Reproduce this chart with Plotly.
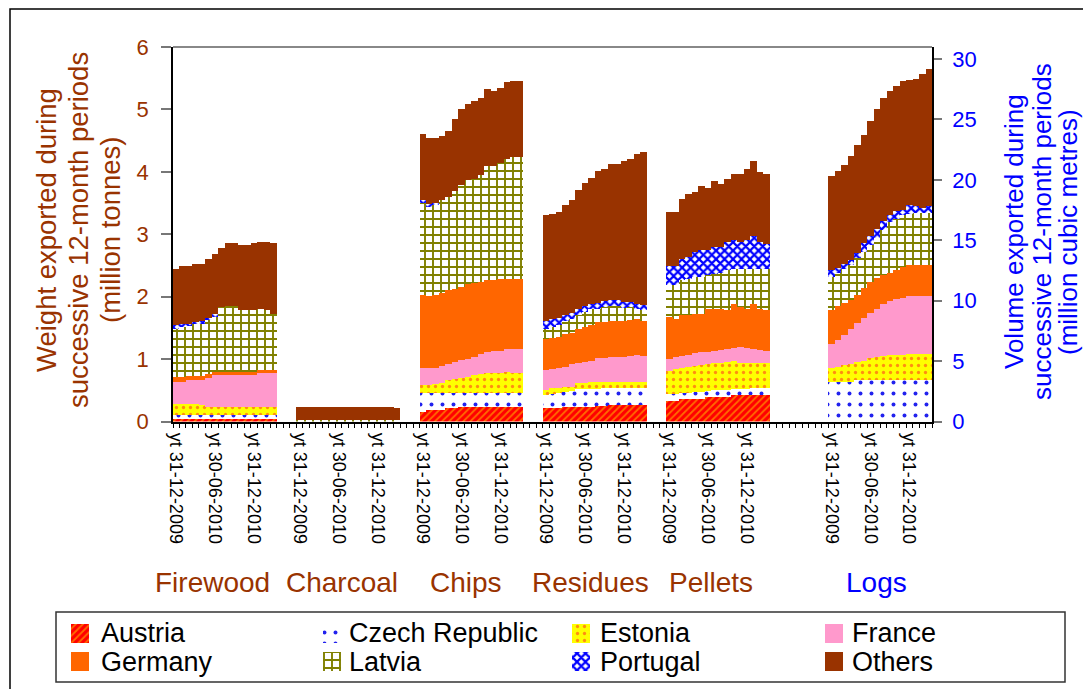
import plotly.graph_objects as go
import numpy as np

# ---------------- data ----------------
countries = ["Austria", "Czech Republic", "Estonia", "France",
             "Germany", "Latvia", "Portugal", "Others"]
products = ["Firewood", "Charcoal", "Chips", "Residues", "Pellets", "Logs"]
periods = ["yt 31-12-2009", "yt 31-01-2010", "yt 28-02-2010", "yt 31-03-2010",
           "yt 30-04-2010", "yt 31-05-2010", "yt 30-06-2010", "yt 31-07-2010",
           "yt 31-08-2010", "yt 30-09-2010", "yt 31-10-2010", "yt 30-11-2010",
           "yt 31-12-2010", "yt 31-01-2011", "yt 28-02-2011", "yt 31-03-2011"]
shown_periods = ["yt 31-12-2009", "yt 30-06-2010", "yt 31-12-2010"]

# cumulative stack tops (million tonnes), read bar by bar
firewood_tops = {
    "Austria":        [0.04]*16,
    "Czech Republic": [0.10]*16,
    "Estonia":  [0.28,0.28,0.28,0.28,0.27,0.24,0.24,0.24,0.24,0.24,0.24,0.24,0.24,0.24,0.24,0.24],
    "France":   [0.64,0.64,0.67,0.67,0.67,0.70,0.75,0.75,0.75,0.75,0.75,0.75,0.75,0.77,0.77,0.77],
    "Germany":  [0.72,0.72,0.735,0.735,0.735,0.76,0.80,0.80,0.80,0.80,0.80,0.80,0.80,0.83,0.83,0.83],
    "Latvia":   [1.49,1.52,1.53,1.56,1.57,1.62,1.68,1.84,1.85,1.85,1.78,1.78,1.78,1.80,1.78,1.72],
    "Portugal": [1.54,1.56,1.57,1.60,1.61,1.66,1.72,1.84,1.85,1.85,1.78,1.78,1.78,1.80,1.78,1.72],
    "Others":   [2.44,2.49,2.49,2.52,2.52,2.60,2.69,2.78,2.86,2.86,2.83,2.83,2.86,2.88,2.87,2.86],
}
charcoal_tops = {
    "Austria": [0.0]*16, "Czech Republic": [0.0]*16, "Estonia": [0.0]*16,
    "France": [0.0]*16, "Germany": [0.0]*16,
    "Latvia":   [0.03]*16,
    "Portugal": [0.03]*16,
    "Others":   [0.24]*15 + [0.215],
}
chips_tops = {
    "Austria":  [0.16,0.18,0.19,0.19,0.21,0.21,0.23,0.23,0.23,0.23,0.23,0.23,0.23,0.23,0.23,0.23],
    "Czech Republic": [0.46,0.45,0.45,0.45,0.45,0.45,0.45,0.45,0.45,0.45,0.45,0.45,0.45,0.45,0.45,0.45],
    "Estonia":  [0.59,0.59,0.60,0.62,0.67,0.68,0.70,0.72,0.74,0.76,0.77,0.78,0.78,0.80,0.78,0.78],
    "France":   [0.86,0.86,0.86,0.89,0.92,0.95,0.98,1.00,1.04,1.08,1.11,1.13,1.13,1.16,1.16,1.16],
    "Germany":  [2.03,2.01,2.03,2.06,2.11,2.13,2.16,2.20,2.22,2.23,2.26,2.27,2.28,2.28,2.28,2.28],
    "Latvia":   [3.50,3.44,3.47,3.55,3.60,3.69,3.79,3.87,3.89,3.95,4.09,4.10,4.14,4.21,4.23,4.23],
    "Portugal": [3.55,3.49,3.50,3.55,3.60,3.69,3.79,3.87,3.89,3.95,4.09,4.10,4.14,4.21,4.23,4.23],
    "Others":   [4.61,4.55,4.55,4.58,4.66,4.84,5.00,5.08,5.14,5.19,5.33,5.30,5.35,5.44,5.46,5.46],
}
residues_tops = {
    "Austria":  [0.22,0.22,0.22,0.23,0.23,0.24,0.24,0.24,0.25,0.25,0.26,0.26,0.27,0.27,0.27,0.27],
    "Czech Republic": [0.43,0.44,0.45,0.47,0.49,0.52,0.52,0.52,0.52,0.53,0.53,0.53,0.53,0.53,0.53,0.53],
    "Estonia":  [0.51,0.53,0.54,0.55,0.56,0.61,0.62,0.64,0.64,0.64,0.64,0.64,0.64,0.64,0.64,0.64],
    "France":   [0.83,0.84,0.86,0.88,0.92,0.93,0.95,0.97,1.02,1.02,1.03,1.04,1.04,1.05,1.07,1.05],
    "Germany":  [1.32,1.33,1.36,1.40,1.41,1.48,1.52,1.55,1.59,1.60,1.61,1.61,1.61,1.63,1.64,1.61],
    "Latvia":   [1.49,1.51,1.55,1.61,1.65,1.71,1.76,1.80,1.81,1.84,1.85,1.85,1.82,1.83,1.80,1.79],
    "Portugal": [1.61,1.64,1.66,1.71,1.74,1.80,1.85,1.88,1.90,1.93,1.95,1.94,1.92,1.92,1.89,1.87],
    "Others":   [3.31,3.32,3.35,3.47,3.55,3.71,3.82,3.90,4.01,4.04,4.12,4.12,4.18,4.20,4.29,4.31],
}
pellets_tops = {
    "Austria":  [0.33,0.33,0.36,0.36,0.36,0.36,0.39,0.39,0.39,0.39,0.43,0.43,0.43,0.43,0.43,0.43],
    "Czech Republic": [0.44,0.44,0.46,0.46,0.47,0.48,0.49,0.50,0.51,0.51,0.52,0.52,0.52,0.53,0.53,0.53],
    "Estonia":  [0.81,0.84,0.85,0.87,0.89,0.91,0.92,0.93,0.94,0.96,0.97,0.94,0.94,0.94,0.94,0.94],
    "France":   [1.00,1.04,1.05,1.07,1.09,1.11,1.12,1.13,1.15,1.16,1.17,1.19,1.17,1.16,1.15,1.13],
    "Germany":  [1.67,1.65,1.71,1.71,1.72,1.72,1.81,1.80,1.80,1.79,1.89,1.84,1.81,1.89,1.81,1.79],
    "Latvia":   [2.19,2.19,2.27,2.29,2.31,2.32,2.35,2.37,2.38,2.43,2.44,2.44,2.44,2.45,2.45,2.44],
    "Portugal": [2.49,2.49,2.60,2.64,2.71,2.75,2.74,2.79,2.80,2.88,2.91,2.88,2.91,2.97,2.88,2.85],
    "Others":   [3.35,3.35,3.57,3.65,3.68,3.77,3.74,3.85,3.81,3.88,3.97,3.97,4.04,4.18,3.99,3.96],
}
# logs: million cubic metres (right axis)
logs_tops = {
    "Austria":  [0.0]*16,
    "Czech Republic": [3.30,3.30,3.30,3.30,3.40,3.45,3.45,3.45,3.45,3.45,3.45,3.45,3.45,3.45,3.45,3.45],
    "Estonia":  [4.42,4.55,4.69,4.77,4.89,4.97,5.24,5.38,5.44,5.52,5.52,5.52,5.58,5.58,5.58,5.58],
    "France":   [6.43,6.76,7.18,7.65,8.14,8.56,8.97,9.30,9.74,9.94,10.13,10.21,10.35,10.35,10.35,10.41],
    "Germany":  [9.25,9.52,9.80,10.07,10.49,11.04,11.51,11.87,12.14,12.28,12.56,12.78,12.97,12.97,12.97,12.97],
    "Latvia":   [11.95,12.28,12.61,12.92,13.52,14.02,14.63,15.18,15.87,16.48,16.75,17.11,17.20,17.25,17.25,17.25],
    "Portugal": [12.56,12.70,13.03,13.39,13.94,14.77,15.32,15.95,16.62,17.11,17.39,17.53,17.89,17.85,17.66,17.80],
    "Others":   [20.34,20.76,21.25,21.94,22.91,23.74,24.90,25.89,26.77,27.38,27.79,28.21,28.29,28.35,28.79,29.20],
}

# ---------------- layout helpers ----------------
W, H = 1083, 689
PL, PR, PT, PB = 173, 932, 47, 421.5      # plot-area edges in pixels
group_start = [0, 19, 38, 57, 76, 101]
n_slots = 117

def px_x(px):
    return px / W

def px_y(py):
    return (H - py) / H

BROWN = "#993300"
BLUE = "#0000FF"
FONT = "Liberation Sans, Arial, sans-serif"

styles = {
    "Austria": dict(color="#FF0000", pattern=dict(shape="/", fgcolor="#FFD700", fillmode="overlay", size=5, solidity=0.35)),
    "Czech Republic": dict(color="#3333FF", pattern=dict(shape=".", fgcolor="#2222EE", bgcolor="#FFFFFF", fillmode="replace", size=11, solidity=0.1)),
    "Estonia": dict(color="#FFFF00", pattern=dict(shape=".", fgcolor="#FF2020", bgcolor="#FFFF00", fillmode="overlay", size=7, solidity=0.18)),
    "France": dict(color="#FF99CC"),
    "Germany": dict(color="#FF6600"),
    "Latvia": dict(color="#808000", pattern=dict(shape="+", fgcolor="#808000", bgcolor="#FFFFFF", fillmode="replace", size=8, solidity=0.42)),
    "Portugal": dict(color="#0000FF", pattern=dict(shape="x", fgcolor="#0000FF", bgcolor="#FFFFFF", fillmode="replace", size=6, solidity=0.6)),
    "Others": dict(color="#993300"),
}

left_groups = [firewood_tops, charcoal_tops, chips_tops, residues_tops, pellets_tops]

def segments(tops, ci):
    cur = np.array(tops[countries[ci]], dtype=float)
    if ci == 0:
        return cur
    prev = np.array(tops[countries[ci - 1]], dtype=float)
    return np.clip(cur - prev, 0, None)

def make_marker(c):
    st = styles[c]
    marker = dict(color=st["color"], line=dict(width=0))
    if "pattern" in st:
        marker["pattern"] = st["pattern"]
    return marker

fig = go.Figure()
for ci, c in enumerate(countries):
    xs, ys = [], []
    for gi, tops in enumerate(left_groups):
        xs += [group_start[gi] + k for k in range(len(periods))]
        ys += list(segments(tops, ci))
    fig.add_trace(go.Bar(x=xs, y=ys, name=c, marker=make_marker(c), width=1.0,
                         xaxis="x", yaxis="y", showlegend=False))
for ci, c in enumerate(countries):
    xs = [group_start[5] + k for k in range(len(periods))]
    ys = list(segments(logs_tops, ci))
    fig.add_trace(go.Bar(x=xs, y=ys, name=c, marker=make_marker(c), width=1.0,
                         xaxis="x", yaxis="y2", showlegend=False))

# ---------------- legend (4 columns x 2 rows, drawn on a pixel-space overlay axis) ----------------
leg_swatch_left = [71, 323, 572, 825]
leg_text_left = [99, 347, 598, 850]
leg_row_top = [624, 652]
leg_row_mid = [633, 661.5]
SW, SH = 18, 19
for ci, c in enumerate(countries):
    r, col = divmod(ci, 4)
    fig.add_trace(go.Bar(x=[leg_swatch_left[col] + SW / 2], y=[SH], base=[leg_row_top[r]],
                         width=[SW], marker=make_marker(c), xaxis="x3", yaxis="y3",
                         showlegend=False, hoverinfo="skip", name=c))
    fig.add_annotation(xref="paper", yref="paper", x=px_x(leg_text_left[col]), y=px_y(leg_row_mid[r]),
                       text=c, showarrow=False, xanchor="left", yanchor="middle",
                       font=dict(size=27, color="black", family=FONT))
fig.add_shape(type="rect", xref="paper", yref="paper",
              x0=px_x(56), x1=px_x(1065), y0=px_y(682), y1=px_y(612),
              line=dict(color="#333333", width=1.5))

tickvals, ticktext = [], []
for gs in group_start:
    for p in shown_periods:
        tickvals.append(gs + periods.index(p))
        ticktext.append(p)

xdom = [PL / W, PR / W]
ydom = [(H - PB) / H, (H - PT) / H]

fig.update_layout(
    width=W, height=H,
    margin=dict(l=0, r=0, t=0, b=0, autoexpand=False),
    paper_bgcolor="white", plot_bgcolor="rgba(0,0,0,0)",
    barmode="stack", bargap=0,
    font=dict(family=FONT, color="black"),
    showlegend=False,
    xaxis=dict(domain=xdom, range=[-0.5, n_slots - 0.5], tickmode="array", tickvals=tickvals,
               ticktext=ticktext, tickangle=90, ticks="", showgrid=False,
               showline=True, linecolor="black", linewidth=1.5, zeroline=False,
               ticklabelstandoff=6,
               tickfont=dict(size=18, color="black"),
               minor=dict(tickmode="linear", tick0=-0.5, dtick=1, ticks="outside",
                          ticklen=5, tickcolor="black", tickwidth=1, showgrid=False)),
    yaxis=dict(domain=ydom, range=[0, 6], dtick=1, ticks="outside", ticklen=10, tickcolor="#777777",
               tickwidth=1.5, showline=True, linecolor="black", linewidth=1.5, showgrid=False,
               zeroline=False, ticklabelstandoff=8, tickfont=dict(size=22, color=BROWN)),
    yaxis2=dict(range=[0, 31], tickmode="array", tickvals=[0, 5, 10, 15, 20, 25, 30],
                overlaying="y", side="right", ticks="outside", ticklen=8,
                tickcolor="#777777", tickwidth=1.5, showline=True, linecolor="black", linewidth=1.5,
                showgrid=False, zeroline=False, ticklabelstandoff=6,
                tickfont=dict(size=22, color=BLUE)),
    xaxis3=dict(domain=[0, 1], range=[0, W], visible=False, anchor="y3", fixedrange=True),
    yaxis3=dict(domain=[0, 1], range=[H, 0], visible=False, anchor="x3", fixedrange=True),
)

# plot-area top border
fig.add_shape(type="line", xref="paper", yref="paper", x0=xdom[0], x1=xdom[1],
              y0=ydom[1], y1=ydom[1], line=dict(color="#888888", width=2))
# outer chart frame
fig.add_shape(type="rect", xref="paper", yref="paper",
              x0=px_x(10), x1=px_x(1100), y0=px_y(700), y1=px_y(9),
              line=dict(color="black", width=1.5), layer="below")

# axis titles (one annotation per line, tight line spacing as in the reference)
left_lines = ["Weight exported during", "successive 12-month periods", "(million tonnes)"]
for txt, lx in zip(left_lines, [47, 79, 111]):
    fig.add_annotation(xref="paper", yref="paper", x=px_x(lx), y=px_y(230), text=txt,
                       textangle=-90, showarrow=False, xanchor="center", yanchor="middle",
                       font=dict(size=27.5, color=BROWN, family=FONT))
right_lines = ["Volume exported during", "successive 12-month periods", "(million cubic metres)"]
for txt, lx in zip(right_lines, [1014, 1042, 1068]):
    fig.add_annotation(xref="paper", yref="paper", x=px_x(lx), y=px_y(232), text=txt,
                       textangle=-90, showarrow=False, xanchor="center", yanchor="middle",
                       font=dict(size=26, color=BLUE, family=FONT))

# product group labels
label_px = [212, 342, 466, 590, 711, 876]
for name, lx in zip(products, label_px):
    fig.add_annotation(xref="paper", yref="paper", x=px_x(lx), y=px_y(582),
                       text=name, showarrow=False, xanchor="center", yanchor="middle",
                       font=dict(size=28, color=BLUE if name == "Logs" else BROWN, family=FONT))

fig.write_html("out.html", config={"displayModeBar": False},
               post_script="document.body.style.margin='0';")
